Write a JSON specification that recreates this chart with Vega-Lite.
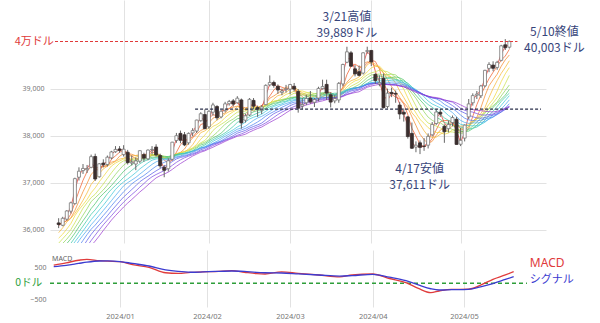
{
  "$schema": "https://vega.github.io/schema/vega-lite/v6.json",
  "padding": {"left": 0, "top": 0, "right": 0, "bottom": 0},
  "background": "white",
  "spacing": 7,
  "config": {
    "view": {"stroke": null},
    "font": "Noto Sans CJK JP",
    "axis": {"domain": false, "ticks": false, "gridColor": "#e2e2e2", "gridWidth": 1, "labelColor": "#777777", "labelFont": "Noto Sans", "labelFontSize": 7, "title": null, "labelOverlap": false}
  },
  "datasets": {
    "one": [{}],
    "px": [
      {"i":-30,"c":33035},{"i":-29,"c":32785},{"i":-28,"c":32418},{"i":-27,"c":32929},{"i":-26,"c":33053},{"i":-25,"c":33275},{"i":-24,"c":33839},{"i":-23,"c":34061},{"i":-22,"c":34096},{"i":-21,"c":34153},{"i":-20,"c":34112},{"i":-19,"c":33892},{"i":-18,"c":34283},{"i":-17,"c":34338},{"i":-16,"c":34828},{"i":-15,"c":34991},{"i":-14,"c":34945},{"i":-13,"c":34947},{"i":-12,"c":35151},{"i":-11,"c":35088},{"i":-10,"c":35273},{"i":-9,"c":35390},{"i":-8,"c":35334},{"i":-7,"c":35416},{"i":-6,"c":35430},{"i":-5,"c":35951},{"i":-4,"c":36245},{"i":-3,"c":36204},{"i":-2,"c":36124},{"i":-1,"c":36054},
      {"i":0,"o":36150,"h":36250,"l":36040,"c":36117},
      {"i":1,"o":36100,"h":36280,"l":36080,"c":36248},
      {"i":2,"o":36230,"h":36420,"l":36200,"c":36404},
      {"i":3,"o":36400,"h":36600,"l":36350,"c":36577},
      {"i":4,"o":36560,"h":37110,"l":36540,"c":37090},
      {"i":5,"o":37120,"h":37330,"l":37050,"c":37248},
      {"i":6,"o":37260,"h":37400,"l":37190,"c":37306},
      {"i":7,"o":37280,"h":37380,"l":37210,"c":37306},
      {"i":8,"o":37330,"h":37600,"l":37310,"c":37557},
      {"i":9,"o":37560,"h":37620,"l":37040,"c":37082},
      {"i":10,"o":37130,"h":37420,"l":37110,"c":37404},
      {"i":11,"o":37420,"h":37500,"l":37330,"c":37385},
      {"i":12,"o":37390,"h":37580,"l":37350,"c":37545},
      {"i":13,"o":37530,"h":37680,"l":37500,"c":37657},
      {"i":14,"o":37660,"h":37780,"l":37640,"c":37710},
      {"i":15,"o":37720,"h":37780,"l":37640,"c":37690},
      {"i":16,"o":37600,"h":37800,"l":37560,"c":37715},
      {"i":17,"o":37650,"h":37700,"l":37390,"c":37430},
      {"i":18,"o":37420,"h":37580,"l":37370,"c":37440},
      {"i":19,"o":37400,"h":37540,"l":37270,"c":37466},
      {"i":20,"o":37460,"h":37690,"l":37420,"c":37683},
      {"i":21,"o":37600,"h":37640,"l":37450,"c":37525},
      {"i":22,"o":37510,"h":37710,"l":37480,"c":37696},
      {"i":23,"o":37700,"h":37780,"l":37600,"c":37711},
      {"i":24,"o":37760,"h":37820,"l":37560,"c":37593},
      {"i":25,"o":37580,"h":37620,"l":37310,"c":37361},
      {"i":26,"o":37330,"h":37380,"l":37120,"c":37267},
      {"i":27,"o":37300,"h":37520,"l":37240,"c":37469},
      {"i":28,"o":37500,"h":37870,"l":37470,"c":37864},
      {"i":29,"o":37900,"h":38060,"l":37850,"c":38001},
      {"i":30,"o":38050,"h":38110,"l":37840,"c":37905},
      {"i":31,"o":38020,"h":38080,"l":37780,"c":37806},
      {"i":32,"o":37850,"h":38070,"l":37810,"c":38050},
      {"i":33,"o":38060,"h":38160,"l":37990,"c":38109},
      {"i":34,"o":38100,"h":38340,"l":38060,"c":38333},
      {"i":35,"o":38320,"h":38500,"l":38300,"c":38467},
      {"i":36,"o":38450,"h":38560,"l":38140,"c":38150},
      {"i":37,"o":38190,"h":38540,"l":38150,"c":38519},
      {"i":38,"o":38500,"h":38700,"l":38430,"c":38654},
      {"i":39,"o":38620,"h":38650,"l":38330,"c":38380},
      {"i":40,"o":38400,"h":38540,"l":38370,"c":38521},
      {"i":41,"o":38540,"h":38720,"l":38500,"c":38677},
      {"i":42,"o":38680,"h":38760,"l":38640,"c":38726},
      {"i":43,"o":38740,"h":38780,"l":38620,"c":38672},
      {"i":44,"o":38700,"h":38840,"l":38680,"c":38797},
      {"i":45,"o":38760,"h":38790,"l":38150,"c":38273},
      {"i":46,"o":38330,"h":38470,"l":38280,"c":38424},
      {"i":47,"o":38440,"h":38800,"l":38420,"c":38773},
      {"i":48,"o":38750,"h":38800,"l":38560,"c":38628},
      {"i":49,"o":38600,"h":38640,"l":38400,"c":38564},
      {"i":50,"o":38540,"h":38650,"l":38460,"c":38612},
      {"i":51,"o":38660,"h":39090,"l":38650,"c":39069},
      {"i":52,"o":39080,"h":39280,"l":39050,"c":39131},
      {"i":53,"o":39130,"h":39170,"l":39020,"c":39069},
      {"i":54,"o":39050,"h":39090,"l":38890,"c":38972},
      {"i":55,"o":38920,"h":39000,"l":38860,"c":38949},
      {"i":56,"o":38980,"h":39080,"l":38920,"c":38996},
      {"i":57,"o":38990,"h":39100,"l":38880,"c":39087},
      {"i":58,"o":39050,"h":39120,"l":38940,"c":38990},
      {"i":59,"o":38940,"h":38990,"l":38490,"c":38585},
      {"i":60,"o":38630,"h":38800,"l":38560,"c":38661},
      {"i":61,"o":38700,"h":38870,"l":38650,"c":38791},
      {"i":62,"o":38800,"h":38950,"l":38680,"c":38723},
      {"i":63,"o":38710,"h":38800,"l":38610,"c":38770},
      {"i":64,"o":38800,"h":39040,"l":38730,"c":39005},
      {"i":65,"o":39000,"h":39190,"l":38980,"c":39043},
      {"i":66,"o":39090,"h":39190,"l":38760,"c":38906},
      {"i":67,"o":38870,"h":38920,"l":38600,"c":38715},
      {"i":68,"o":38740,"h":38860,"l":38690,"c":38790},
      {"i":69,"o":38760,"h":39140,"l":38700,"c":39111},
      {"i":70,"o":39100,"h":39530,"l":39050,"c":39512},
      {"i":71,"o":39560,"h":39889,"l":39540,"c":39781},
      {"i":72,"o":39760,"h":39800,"l":39460,"c":39476},
      {"i":73,"o":39420,"h":39500,"l":39260,"c":39313},
      {"i":74,"o":39360,"h":39490,"l":39260,"c":39282},
      {"i":75,"o":39330,"h":39770,"l":39300,"c":39760},
      {"i":76,"o":39790,"h":39890,"l":39740,"c":39807},
      {"i":77,"o":39810,"h":39820,"l":39480,"c":39567},
      {"i":78,"o":39300,"h":39330,"l":39100,"c":39170},
      {"i":79,"o":39100,"h":39280,"l":39050,"c":39127},
      {"i":80,"o":39220,"h":39320,"l":38580,"c":38597},
      {"i":81,"o":38620,"h":39000,"l":38580,"c":38904},
      {"i":82,"o":38920,"h":39020,"l":38820,"c":38892},
      {"i":83,"o":38900,"h":38960,"l":38700,"c":38884},
      {"i":84,"o":38650,"h":38720,"l":38350,"c":38462},
      {"i":85,"o":38500,"h":38580,"l":38300,"c":38459},
      {"i":86,"o":38400,"h":38420,"l":37940,"c":37983},
      {"i":87,"o":38050,"h":38280,"l":37720,"c":37735},
      {"i":88,"o":37760,"h":37880,"l":37650,"c":37799},
      {"i":89,"o":37850,"h":37900,"l":37611,"c":37753},
      {"i":90,"o":37780,"h":37950,"l":37680,"c":37775},
      {"i":91,"o":37800,"h":38050,"l":37730,"c":37986},
      {"i":92,"o":38020,"h":38290,"l":37990,"c":38240},
      {"i":93,"o":38260,"h":38560,"l":38230,"c":38504},
      {"i":94,"o":38500,"h":38570,"l":38400,"c":38461},
      {"i":95,"o":38200,"h":38240,"l":37850,"c":38086},
      {"i":96,"o":38150,"h":38320,"l":38070,"c":38240},
      {"i":97,"o":38280,"h":38430,"l":38200,"c":38386},
      {"i":98,"o":38350,"h":38400,"l":37810,"c":37816},
      {"i":99,"o":37820,"h":38170,"l":37780,"c":37903},
      {"i":100,"o":37950,"h":38240,"l":37880,"c":38226},
      {"i":101,"o":38400,"h":38780,"l":38350,"c":38676},
      {"i":102,"o":38700,"h":38900,"l":38640,"c":38852},
      {"i":103,"o":38860,"h":38950,"l":38780,"c":38884},
      {"i":104,"o":38850,"h":39080,"l":38800,"c":39056},
      {"i":105,"o":39060,"h":39400,"l":39030,"c":39388},
      {"i":106,"o":39430,"h":39560,"l":39350,"c":39513},
      {"i":107,"o":39500,"h":39580,"l":39370,"c":39432},
      {"i":108,"o":39450,"h":39590,"l":39400,"c":39558},
      {"i":109,"o":39600,"h":39930,"l":39580,"c":39908},
      {"i":110,"o":39930,"h":40051,"l":39820,"c":39869},
      {"i":111,"o":39880,"h":40020,"l":39850,"c":40003}
    ],
    "macd": [
      {"i":0,"macd":570,"sig":520},{"i":3,"macd":640,"sig":560},{"i":6,"macd":720,"sig":620},{"i":8,"macd":750,"sig":660},
      {"i":11,"macd":706,"sig":697},{"i":13,"macd":690,"sig":700},{"i":16,"macd":675,"sig":680},{"i":19,"macd":580,"sig":620},
      {"i":23,"macd":500,"sig":540},{"i":27,"macd":330,"sig":420},{"i":30,"macd":310,"sig":370},{"i":33,"macd":340,"sig":345},
      {"i":36,"macd":360,"sig":355},{"i":39,"macd":365,"sig":370},{"i":43,"macd":394,"sig":385},{"i":46,"macd":345,"sig":370},
      {"i":49,"macd":300,"sig":340},{"i":51,"macd":290,"sig":330},{"i":55,"macd":360,"sig":322},{"i":59,"macd":312,"sig":295},
      {"i":64,"macd":260,"sig":260},{"i":69,"macd":200,"sig":225},{"i":72,"macd":265,"sig":240},{"i":77,"macd":290,"sig":281},
      {"i":81,"macd":150,"sig":190},{"i":85,"macd":20,"sig":81},{"i":88,"macd":-160,"sig":-50},{"i":91,"macd":-290,"sig":-170},
      {"i":93,"macd":-240,"sig":-209},{"i":96,"macd":-190,"sig":-200},{"i":100,"macd":-185,"sig":-188},{"i":103,"macd":-60,"sig":-110},
      {"i":106,"macd":125,"sig":-10},{"i":109,"macd":260,"sig":120},{"i":111,"macd":363,"sig":206}
    ]
  },
  "vconcat": [
    {
      "width": 496,
      "height": 243,
      "layer": [
        {
          "data": {"name": "px"},
          "transform": [
            {"window": [{"op": "mean", "field": "c", "as": "m02"}], "frame": [-1, 0], "sort": [{"field": "i"}]},
            {"window": [{"op": "mean", "field": "c", "as": "m04"}], "frame": [-3, 0], "sort": [{"field": "i"}]},
            {"window": [{"op": "mean", "field": "c", "as": "m06"}], "frame": [-5, 0], "sort": [{"field": "i"}]},
            {"window": [{"op": "mean", "field": "c", "as": "m08"}], "frame": [-7, 0], "sort": [{"field": "i"}]},
            {"window": [{"op": "mean", "field": "c", "as": "m10"}], "frame": [-9, 0], "sort": [{"field": "i"}]},
            {"window": [{"op": "mean", "field": "c", "as": "m12"}], "frame": [-11, 0], "sort": [{"field": "i"}]},
            {"window": [{"op": "mean", "field": "c", "as": "m14"}], "frame": [-13, 0], "sort": [{"field": "i"}]},
            {"window": [{"op": "mean", "field": "c", "as": "m16"}], "frame": [-15, 0], "sort": [{"field": "i"}]},
            {"window": [{"op": "mean", "field": "c", "as": "m18"}], "frame": [-17, 0], "sort": [{"field": "i"}]},
            {"window": [{"op": "mean", "field": "c", "as": "m20"}], "frame": [-19, 0], "sort": [{"field": "i"}]},
            {"window": [{"op": "mean", "field": "c", "as": "m22"}], "frame": [-21, 0], "sort": [{"field": "i"}]},
            {"window": [{"op": "mean", "field": "c", "as": "m24"}], "frame": [-23, 0], "sort": [{"field": "i"}]},
            {"window": [{"op": "mean", "field": "c", "as": "m26"}], "frame": [-25, 0], "sort": [{"field": "i"}]},
            {"window": [{"op": "mean", "field": "c", "as": "m28"}], "frame": [-27, 0], "sort": [{"field": "i"}]},
            {"window": [{"op": "mean", "field": "c", "as": "m30"}], "frame": [-29, 0], "sort": [{"field": "i"}]},
            {"fold": ["m02","m04","m06","m08","m10","m12","m14","m16","m18","m20","m22","m24","m26","m28","m30"], "as": ["period", "ma"]},
            {"filter": "datum.i >= 0"}
          ],
          "mark": {"type": "line", "strokeWidth": 1, "opacity": 0.72, "clip": true},
          "encoding": {
            "x": {"field": "i", "type": "quantitative",
              "scale": {"domain": [-0.9, 118.8], "nice": false, "zero": false},
              "axis": {"values": [16, 37, 57, 77, 99], "labels": false, "grid": true, "minExtent": 0, "maxExtent": 0}},
            "y": {"field": "ma", "type": "quantitative",
              "scale": {"domain": [35724, 40881], "nice": false, "zero": false},
              "axis": {"values": [36000, 37000, 38000, 39000], "minExtent": 50, "maxExtent": 50, "labelPadding": 6, "labelExpr": "format(datum.value, ',d')"}},
            "color": {"field": "period", "type": "nominal", "legend": null,
              "scale": {"domain": ["m02","m04","m06","m08","m10","m12","m14","m16","m18","m20","m22","m24","m26","m28","m30"],
                "range": ["#e8302a","#f05a28","#f5892a","#f7b731","#f0d83a","#c8e04a","#8fd45a","#4cc36a","#3cc8a8","#3cc6d8","#4aa8ee","#4a7ff0","#5a5ae8","#7a4ae0","#9a3ad0"]}}
          }
        },
        {
          "data": {"name": "px"},
          "transform": [{"filter": "datum.i >= 0"}],
          "mark": {"type": "rule", "color": "#666666", "strokeWidth": 1},
          "encoding": {
            "x": {"field": "i", "type": "quantitative"},
            "y": {"field": "l", "type": "quantitative"},
            "y2": {"field": "h"}
          }
        },
        {
          "data": {"name": "px"},
          "transform": [{"filter": "datum.i >= 0"}],
          "mark": {"type": "bar", "width": 3, "strokeWidth": 0.8},
          "encoding": {
            "x": {"field": "i", "type": "quantitative"},
            "y": {"field": "o", "type": "quantitative"},
            "y2": {"field": "c"},
            "fill": {"condition": {"test": "datum.c < datum.o", "value": "#3a2e2e"}, "value": "#ffffff"},
            "stroke": {"condition": {"test": "datum.c < datum.o", "value": "#3a2e2e"}, "value": "#777777"}
          }
        },
        {
          "data": {"name": "one"},
          "mark": {"type": "rule", "color": "#e03a3a", "strokeWidth": 1.2, "strokeDash": [3, 2]},
          "encoding": {"x": {"datum": -0.9}, "x2": {"datum": 113}, "y": {"datum": 40000}}
        },
        {
          "data": {"name": "one"},
          "mark": {"type": "rule", "color": "#2a2f4a", "strokeWidth": 1.1, "strokeDash": [3, 2]},
          "encoding": {"x": {"datum": 33.6}, "x2": {"datum": 118.8}, "y": {"datum": 38565}}
        },
        {
          "data": {"name": "one"},
          "mark": {"type": "text", "text": "4万ドル", "fontSize": 11, "color": "#e03a3a", "align": "right", "baseline": "middle"},
          "encoding": {"x": {"datum": -1.2}, "y": {"datum": 40000}}
        },
        {
          "data": {"name": "one"},
          "mark": {"type": "text", "text": ["3/21高値", "39,889ドル"], "lineHeight": 16, "fontSize": 12, "color": "#37457a", "align": "center", "baseline": "middle"},
          "encoding": {"x": {"datum": 71}, "y": {"datum": 40520}}
        },
        {
          "data": {"name": "one"},
          "mark": {"type": "text", "text": ["4/17安値", "37,611ドル"], "lineHeight": 16, "fontSize": 12, "color": "#37457a", "align": "center", "baseline": "middle"},
          "encoding": {"x": {"datum": 88.9}, "y": {"datum": 37290}}
        },
        {
          "data": {"name": "one"},
          "mark": {"type": "text", "text": ["5/10終値", "40,003ドル"], "lineHeight": 16, "fontSize": 12, "color": "#37457a", "align": "center", "baseline": "middle"},
          "encoding": {"x": {"datum": 122.1}, "y": {"datum": 40195}}
        }
      ]
    },
    {
      "width": 496,
      "height": 57,
      "layer": [
        {
          "data": {"name": "one"},
          "mark": {"type": "rule", "color": "#2e9e3a", "strokeWidth": 1.5, "strokeDash": [4, 3]},
          "encoding": {
            "x": {"datum": -0.9, "type": "quantitative",
              "scale": {"domain": [-0.9, 118.8], "nice": false, "zero": false},
              "axis": {"values": [16, 37, 57, 77, 99], "grid": true, "labelPadding": 5, "labelFontSize": 7.5,
                "labelExpr": "datum.value == 16 ? '2024/01' : datum.value == 37 ? '2024/02' : datum.value == 57 ? '2024/03' : datum.value == 77 ? '2024/04' : '2024/05'"}},
            "x2": {"datum": 114.2},
            "y": {"datum": 0, "type": "quantitative",
              "scale": {"domain": [-740, 1040], "nice": false, "zero": false},
              "axis": {"values": [-500, 500], "minExtent": 50, "maxExtent": 50, "labelPadding": 4, "labelExpr": "format(datum.value, 'd')"}}
          }
        },
        {
          "data": {"name": "macd"},
          "mark": {"type": "line", "color": "#e03c3c", "strokeWidth": 1.3, "interpolate": "monotone"},
          "encoding": {"x": {"field": "i", "type": "quantitative"}, "y": {"field": "macd", "type": "quantitative"}}
        },
        {
          "data": {"name": "macd"},
          "mark": {"type": "line", "color": "#3c3cd0", "strokeWidth": 1.3, "interpolate": "monotone"},
          "encoding": {"x": {"field": "i", "type": "quantitative"}, "y": {"field": "sig", "type": "quantitative"}}
        },
        {
          "data": {"name": "one"},
          "mark": {"type": "text", "text": "0ドル", "fontSize": 10.5, "color": "#2e9e3a", "align": "right", "baseline": "middle"},
          "encoding": {"x": {"datum": -2.8}, "y": {"datum": 0}}
        },
        {
          "data": {"name": "one"},
          "mark": {"type": "text", "text": "MACD", "fontSize": 7, "color": "#666666", "align": "left", "baseline": "middle", "font": "Noto Sans"},
          "encoding": {"x": {"datum": -0.4}, "y": {"datum": 760}}
        },
        {
          "data": {"name": "one"},
          "mark": {"type": "text", "text": "MACD", "fontSize": 12, "color": "#e03a3a", "align": "left", "baseline": "middle", "font": "Noto Sans"},
          "encoding": {"x": {"datum": 114.9}, "y": {"datum": 620}}
        },
        {
          "data": {"name": "one"},
          "mark": {"type": "text", "text": "シグナル", "fontSize": 11, "color": "#3a3ad0", "align": "left", "baseline": "middle"},
          "encoding": {"x": {"datum": 114.9}, "y": {"datum": 90}}
        }
      ]
    }
  ]
}
